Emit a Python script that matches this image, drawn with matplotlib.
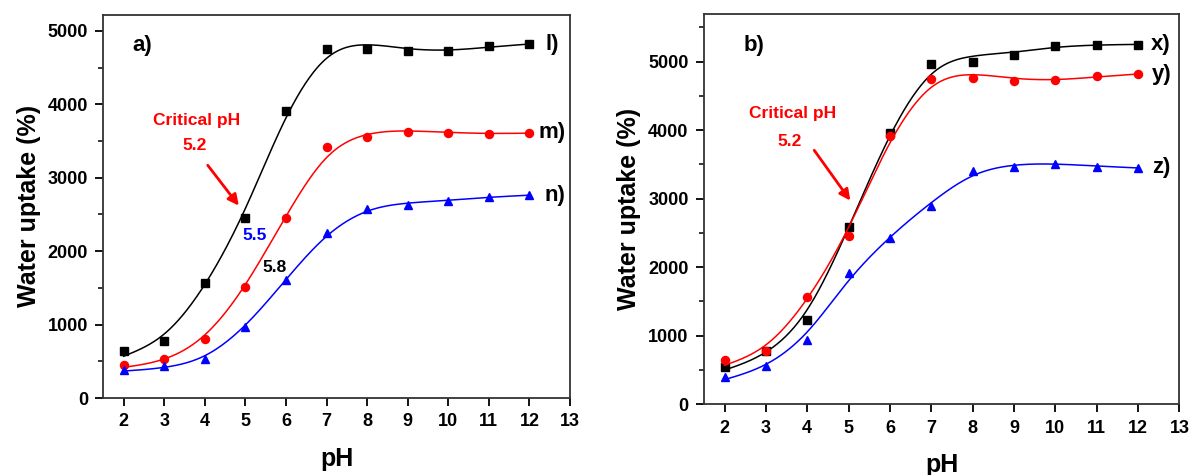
import numpy as np
import matplotlib
matplotlib.use("Agg")
import matplotlib.pyplot as plt
from matplotlib.ticker import MultipleLocator

plt.rcParams['font.family'] = ['Liberation Sans', 'DejaVu Sans']
plt.rcParams['font.weight'] = 'bold'

ph = [2, 3, 4, 5, 6, 7, 8, 9, 10, 11, 12]

# panel a
series_l = [640, 780, 1570, 2450, 3910, 4750, 4760, 4720, 4730, 4790, 4820]
series_m = [450, 530, 810, 1510, 2450, 3420, 3550, 3620, 3610, 3600, 3610]
series_n = [380, 440, 530, 970, 1610, 2250, 2570, 2630, 2680, 2740, 2760]
# panel b
series_x = [550, 770, 1230, 2580, 3960, 4970, 5000, 5100, 5230, 5240, 5250]
series_y = [640, 770, 1570, 2450, 3910, 4750, 4760, 4720, 4730, 4790, 4820]
series_z = [400, 560, 940, 1920, 2420, 2900, 3400, 3470, 3500, 3470, 3450]

labels_a = ['l)', 'm)', 'n)']
labels_b = ['x)', 'y)', 'z)']
colors = ['black', 'red', 'blue']
markers = ['s', 'o', '^']


def smooth_curve(x, y, lam=0.15, n=401):
    x = np.asarray(x, float)
    y = np.asarray(y, float)
    xs = np.linspace(x.min(), x.max(), n)
    h = xs[1] - xs[0]
    W = np.zeros((len(x), n))
    for i, xi in enumerate(x):
        W[i, int(round((xi - xs[0]) / h))] = 1.0
    D = np.diff(np.eye(n), 2, axis=0)
    A = W.T @ W + (lam / h**3) * (D.T @ D)
    b = W.T @ y
    ys = np.linalg.solve(A, b)
    return xs, ys


fig = plt.figure(figsize=(11.95, 4.75), dpi=100)
ax1 = fig.add_axes([0.0865, 0.162, 0.3905, 0.807])
ax2 = fig.add_axes([0.589, 0.149, 0.398, 0.822])


def style(ax, ymax):
    ax.set_xlim(1.5, 13)
    ax.set_ylim(0, ymax)
    ax.set_xticks(range(2, 14))
    ax.yaxis.set_major_locator(MultipleLocator(1000))
    ax.yaxis.set_minor_locator(MultipleLocator(500))
    ax.tick_params(axis='both', which='major', direction='out', length=6, width=1.3,
                   labelsize=13, pad=5)
    ax.tick_params(axis='y', which='minor', direction='out', length=3.5, width=1.1)
    for lab in ax.get_xticklabels() + ax.get_yticklabels():
        lab.set_fontweight('bold')
    for s in ax.spines.values():
        s.set_linewidth(1.3)
        s.set_color('#333333')
    ax.set_xlabel('pH', fontsize=18, fontweight='bold', labelpad=12)
    ax.set_ylabel('Water uptake (%)', fontsize=18, fontweight='bold', labelpad=5)


def draw(ax, series, labels, label_x):
    for ys_, lab, c, m, lx in zip(series, labels, colors, markers, label_x):
        xs, sm = smooth_curve(ph, ys_)
        ax.plot(xs, sm, color=c, lw=1.1)
        ax.plot(ph, ys_, linestyle='none', marker=m, color=c, markersize=5.8)
        ax.text(lx, ys_[-1], lab, fontsize=16, fontweight='bold', va='center', ha='left')


draw(ax1, [series_l, series_m, series_n], labels_a, [12.4, 12.22, 12.37])
style(ax1, 5220)
ax1.text(2.45, 4800, 'a)', fontsize=16, fontweight='bold', va='center', ha='center')
ax1.text(3.8, 3780, 'Critical pH', color='red', fontsize=12.5, fontweight='bold', ha='center', va='center')
ax1.text(3.75, 3440, '5.2', color='red', fontsize=12.5, fontweight='bold', ha='center', va='center')
ax1.annotate('', xy=(4.88, 2590), xytext=(4.03, 3200),
             arrowprops=dict(arrowstyle='-|>', color='red', lw=2, mutation_scale=16))
ax1.text(5.22, 2215, '5.5', color='blue', fontsize=12.5, fontweight='bold', ha='center', va='center')
ax1.text(5.72, 1780, '5.8', color='black', fontsize=12.5, ha='center', va='center')

draw(ax2, [series_x, series_y, series_z], labels_b, [12.3, 12.33, 12.33])
style(ax2, 5700)
ax2.text(2.72, 5230, 'b)', fontsize=16, fontweight='bold', va='center', ha='center')
ax2.text(3.65, 4250, 'Critical pH', color='red', fontsize=12.5, fontweight='bold', ha='center', va='center')
ax2.text(3.57, 3840, '5.2', color='red', fontsize=12.5, fontweight='bold', ha='center', va='center')
ax2.annotate('', xy=(5.08, 2940), xytext=(4.13, 3740),
             arrowprops=dict(arrowstyle='-|>', color='red', lw=2, mutation_scale=16))

fig.savefig('out.png', dpi=100)
